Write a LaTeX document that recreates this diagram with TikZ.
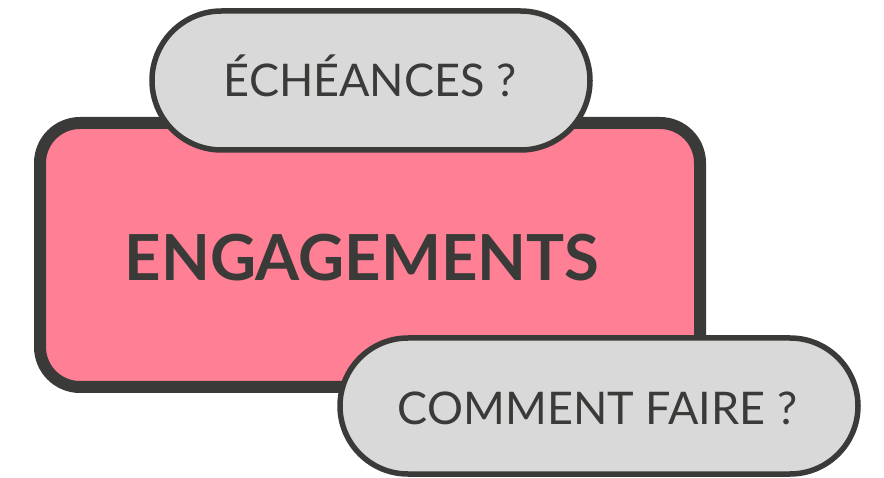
\documentclass[tikz,border=0pt]{standalone}
\usepackage{fontspec}
\setmainfont{Lato}
\definecolor{ink}{HTML}{3A3A38}
\definecolor{pinkfill}{HTML}{FF7F94}
\definecolor{pillfill}{HTML}{D9D9D9}
\begin{document}
\begin{tikzpicture}[x=1pt,y=-1pt,
  mainbox/.style={draw=ink,fill=pinkfill,line width=12pt,rounded corners=40pt,inner sep=0pt,
    minimum width=660pt,minimum height=264pt},
  pill/.style={draw=ink,fill=pillfill,line width=5.5pt,inner sep=0pt},
  bigtext/.style={text=ink,font=\fontsize{63.5}{70}\selectfont\bfseries,inner sep=0pt,anchor=base},
  pilltext/.style={text=ink,font=\fontsize{45}{50}\selectfont,inner sep=0pt,anchor=base}]
\useasboundingbox (0,0) rectangle (884,478);
\node[mainbox] (main) at (370,255) {};
\node[pill,minimum width=438pt,minimum height=139pt,rounded corners=69.5pt] (top) at (371,80.5) {};
\node[pill,minimum width=518pt,minimum height=136pt,rounded corners=68pt] (bottom) at (599,406) {};
\node[bigtext] (maintext) at (362,281) {ENGAGEMENTS};
\node[pilltext] (toptext) at (370,96.7) {ÉCHÉANCES ?};
\node[pilltext] (bottomtext) at (597.5,424.3) {COMMENT FAIRE ?};
\end{tikzpicture}
\end{document}
